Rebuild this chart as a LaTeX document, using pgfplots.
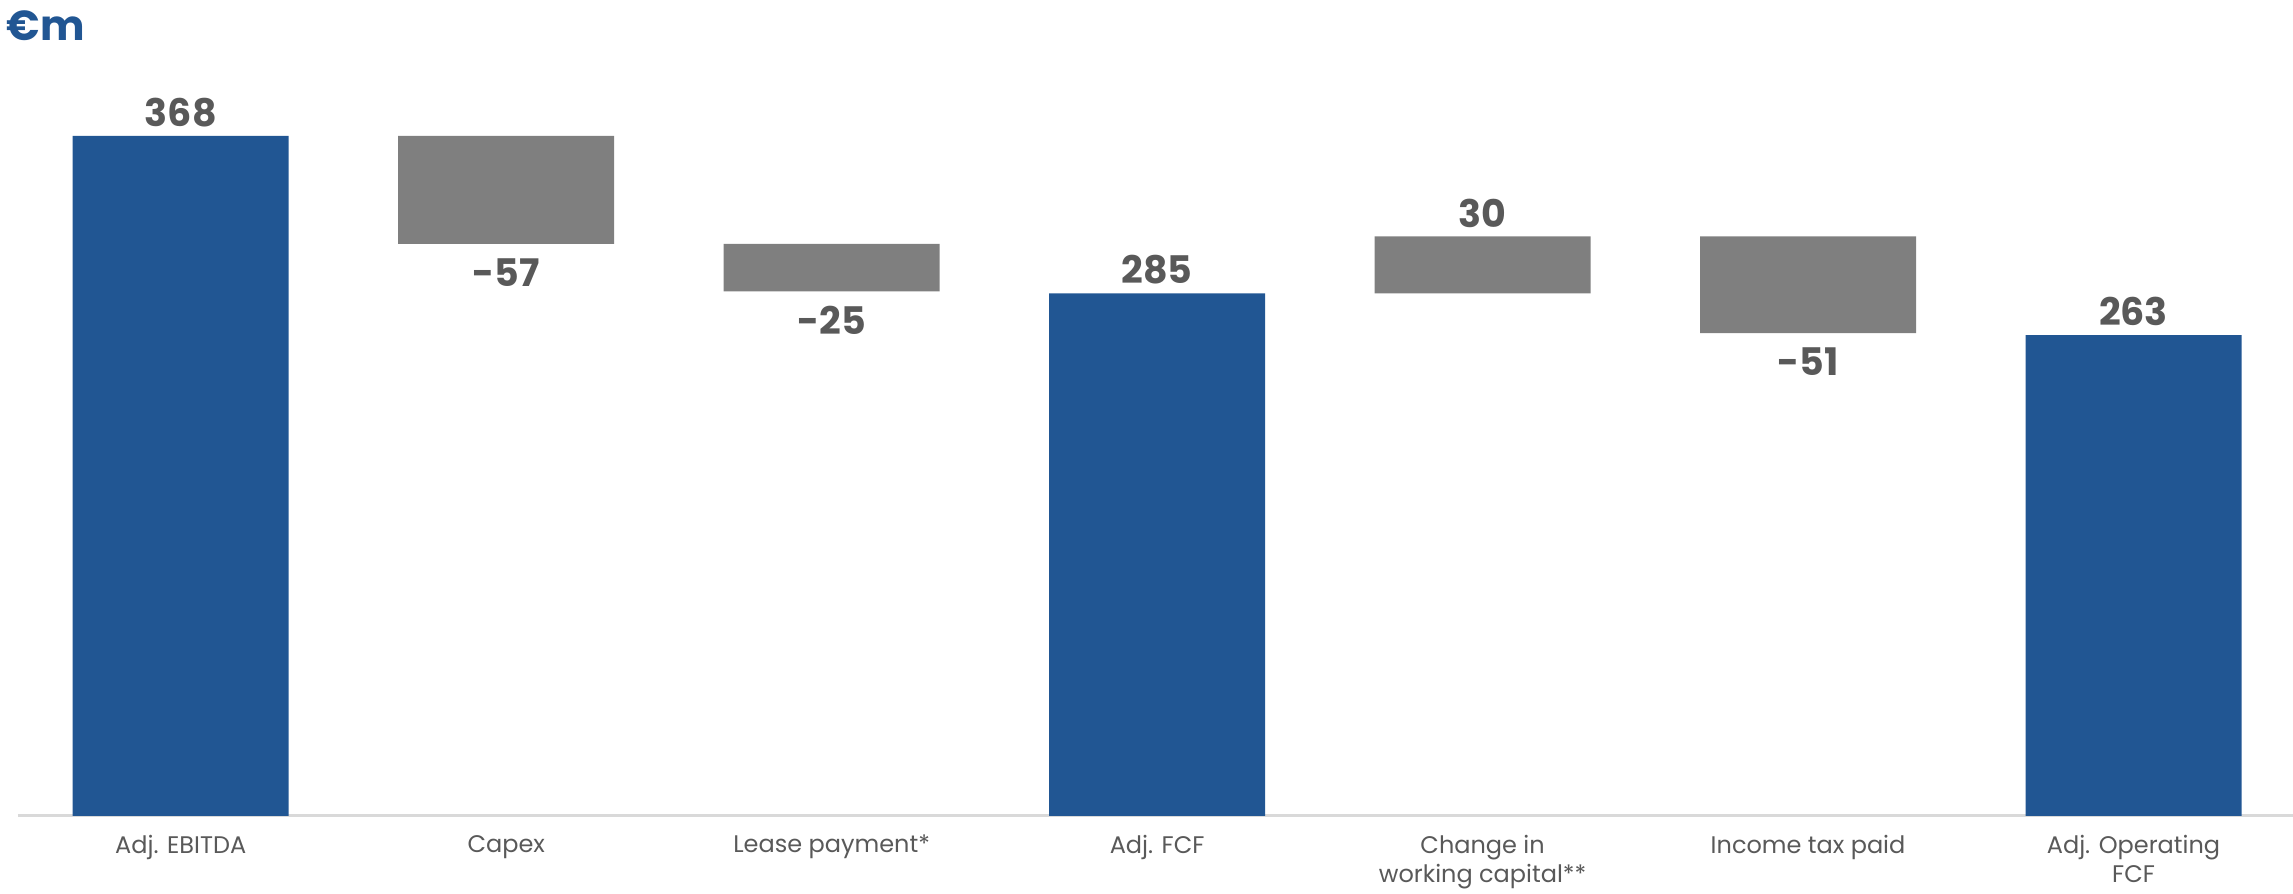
\documentclass[border=0pt]{standalone}
\usepackage{fontspec}
\setmainfont{Poppins}
\usepackage{pgfplots}
\pgfplotsset{compat=1.18}
\usepackage{pgfplotstable}
\definecolor{barblue}{RGB}{33,86,147}
\definecolor{bargray}{RGB}{127,127,127}
\definecolor{txtgray}{RGB}{89,89,89}
\definecolor{axgray}{RGB}{217,217,217}

\pgfplotstableread{
x base
0 0
1 311
2 286
3 0
4 285
5 264
6 0
}\basetab
\pgfplotstableread{
x h
0 368
1 0
2 0
3 285
4 0
5 0
6 263
}\bluetab
\pgfplotstableread{
x h
0 0
1 57
2 25
3 0
4 30
5 51
6 0
}\graytab
\pgfplotstableread{
x y lb
0 368 368
3 285 285
4 315 30
6 263 263
}\abovetab
\pgfplotstableread{
x y lb
1 311 -57
2 286 -25
5 264 -51
}\belowtab

\pgfplotsset{common/.style={
  at={(0,0)}, anchor=south west,
  scale only axis, width=568.75pt, height=169.8pt,
  xmin=-0.5, xmax=6.49, ymin=10, ymax=368}}

\begin{document}
\begin{tikzpicture}
\begin{axis}[
  common, clip=true,
  ybar stacked, bar width=54pt,
  axis y line=none, axis x line=bottom,
  x axis line style={axgray, line width=0.75pt, -},
  xtick={0,1,2,3,4,5,6},
  xticklabels={Adj. EBITDA, Capex, Lease payment*, Adj. FCF, {Change in\\working capital**}, Income tax paid, {Adj. Operating\\FCF}},
  major tick length=0pt, xtick style={draw=none},
  xticklabel style={font=\fontsize{6}{7.25}\selectfont, text=txtgray, align=center, anchor=north, yshift=-1.5pt},
]
\addplot[draw=none, fill=none] table[x=x, y=base]{\basetab};
\addplot[draw=none, fill=barblue] table[x=x, y=h]{\bluetab};
\addplot[draw=none, fill=bargray] table[x=x, y=h]{\graytab};
\end{axis}
\begin{axis}[common, clip=false, hide axis, point meta=explicit symbolic]
\addplot[draw=none, mark=none, nodes near coords,
  every node near coord/.append style={anchor=south, inner sep=2pt, font=\fontsize{9.5}{11}\selectfont\bfseries, text=txtgray}]
  table[x=x, y=y, meta=lb]{\abovetab};
\addplot[draw=none, mark=none, nodes near coords,
  every node near coord/.append style={anchor=north, inner sep=3.5pt, font=\fontsize{9.5}{11}\selectfont\bfseries, text=txtgray}]
  table[x=x, y=y, meta=lb]{\belowtab};
\end{axis}
\node[anchor=base west, inner sep=0pt, text=barblue, font=\fontsize{10.5}{12}\selectfont\bfseries] at (-3pt,193.75pt) {€m};
\pgfresetboundingbox
\useasboundingbox (-4.5pt,-19.5pt) rectangle (568.75pt,203.75pt);
\end{tikzpicture}
\end{document}
